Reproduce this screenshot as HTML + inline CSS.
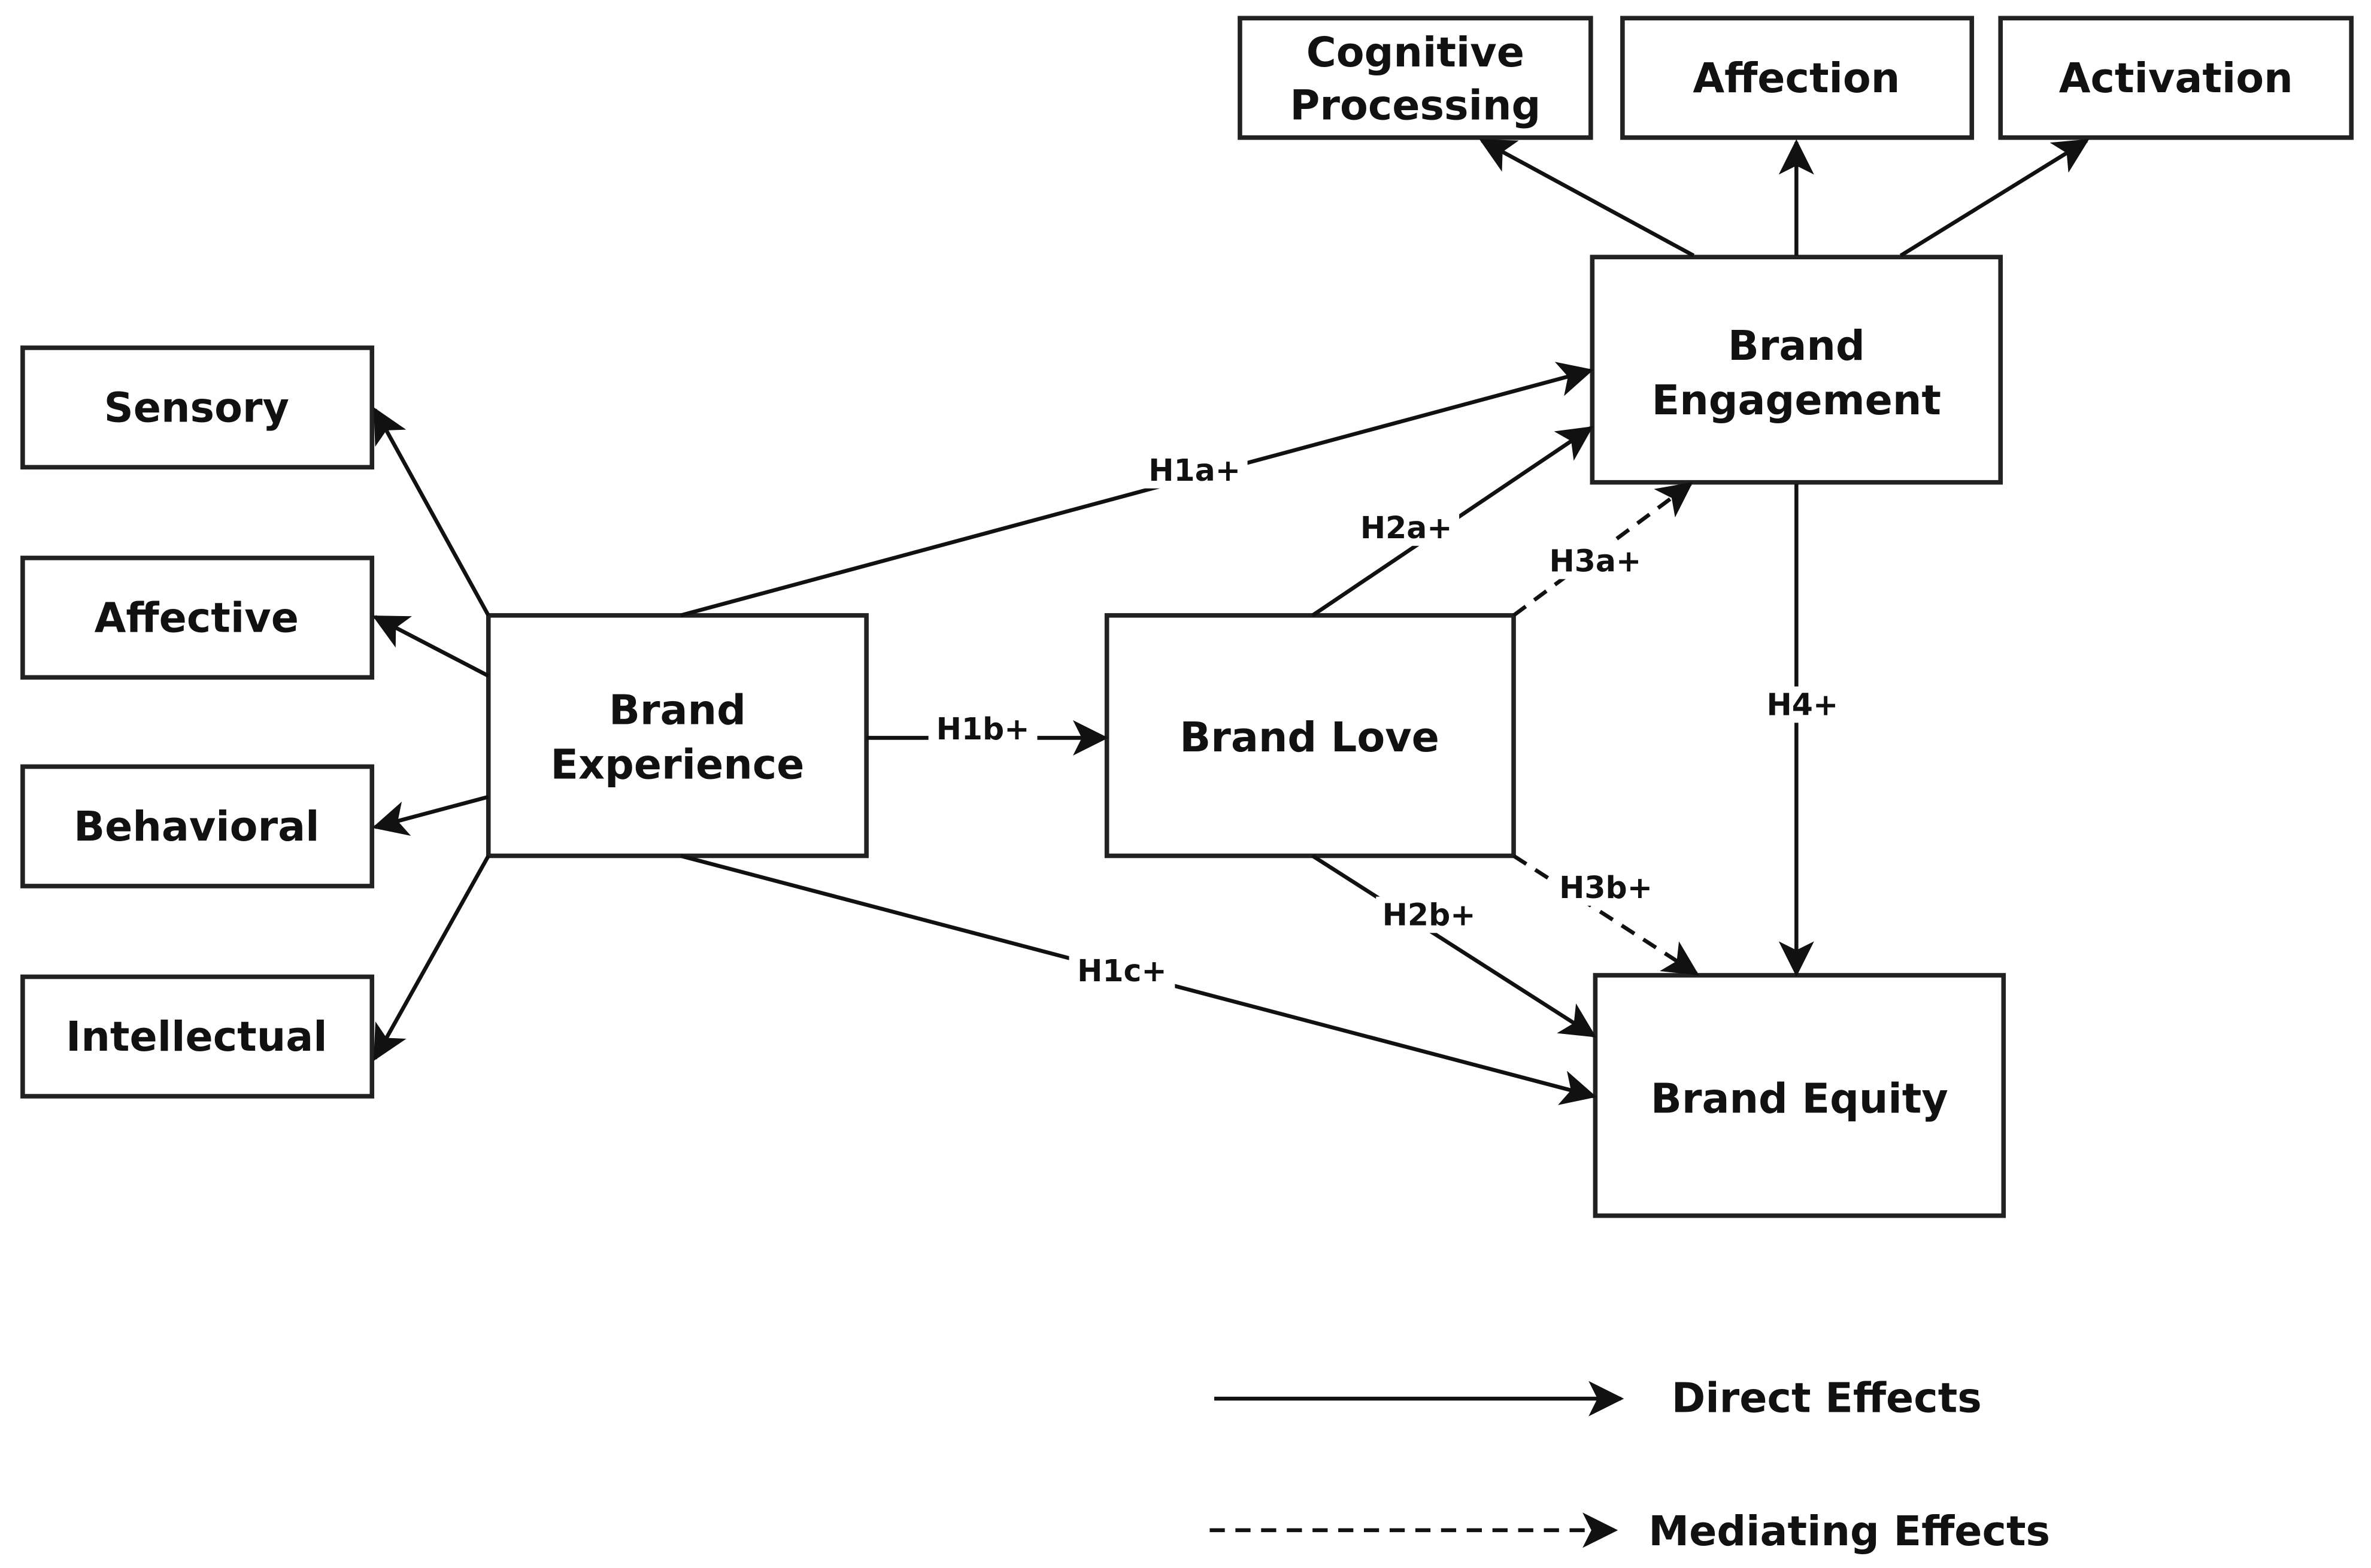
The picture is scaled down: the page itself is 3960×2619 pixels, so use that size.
<!DOCTYPE html>
<html><head><meta charset="utf-8"><style>
html,body{margin:0;padding:0;background:#fff;}
svg{display:block;}
text{font-family:"DejaVu Sans","Liberation Sans",sans-serif;font-weight:bold;fill:#111;}
.b{font-size:27px;text-anchor:middle;dominant-baseline:central;}
.l{font-size:20px;text-anchor:middle;dominant-baseline:central;}
</style></head><body>
<svg width="3960" height="2619" viewBox="0 0 1568 1037" preserveAspectRatio="none" xmlns="http://www.w3.org/2000/svg">
<defs>
<marker id="m" viewBox="0 0 12 12" refX="11" refY="6" markerWidth="9" markerHeight="9" orient="auto">
<path d="M0,0 L12,6 L0,12 L3,6 Z" fill="#111"/>
</marker>
</defs>
<rect width="1568" height="1037" fill="#fff"/>
<g fill="#fff" stroke="#222" stroke-width="3">
<rect x="820" y="12" width="232" height="79"/>
<rect x="1073" y="12" width="231" height="79"/>
<rect x="1323" y="12" width="232" height="79"/>
<rect x="1053" y="170" width="270" height="149"/>
<rect x="15" y="230" width="231" height="79"/>
<rect x="15" y="369" width="231" height="79"/>
<rect x="15" y="507" width="231" height="79"/>
<rect x="15" y="646" width="231" height="79"/>
<rect x="323" y="407" width="250" height="159"/>
<rect x="732" y="407" width="269" height="159"/>
<rect x="1055" y="645" width="270" height="159"/>
</g>
<g stroke="#111" stroke-width="2.6" fill="none" marker-end="url(#m)">
<line x1="1120" y1="169" x2="980" y2="93"/>
<line x1="1188" y1="169" x2="1188" y2="94"/>
<line x1="1257" y1="169" x2="1380" y2="93"/>
<line x1="323" y1="407" x2="248" y2="271"/>
<line x1="323" y1="447" x2="248" y2="408"/>
<line x1="323" y1="527" x2="248" y2="547"/>
<line x1="323" y1="566" x2="248" y2="700"/>
<line x1="450" y1="407" x2="1052" y2="245"/>
<line x1="573" y1="488" x2="731" y2="488"/>
<line x1="450" y1="566" x2="1054" y2="725"/>
<line x1="868" y1="407" x2="1052" y2="283"/>
<line x1="868" y1="566" x2="1054" y2="685"/>
<line x1="1188" y1="320" x2="1188" y2="644"/>
<line x1="803" y1="925" x2="1072" y2="925"/>
<g stroke-dasharray="10,7">
<line x1="1001" y1="407" x2="1118" y2="320"/>
<line x1="1001" y1="566" x2="1122" y2="644"/>
<line x1="800" y1="1012" x2="1068" y2="1012"/>
</g>
</g>
<text class="b" x="936" y="35">Cognitive</text>
<text class="b" x="936" y="70">Processing</text>
<text class="b" x="1188" y="52">Affection</text>
<text class="b" x="1439" y="52">Activation</text>
<text class="b" x="1188" y="229">Brand</text>
<text class="b" x="1188" y="265">Engagement</text>
<text class="b" x="130" y="270">Sensory</text>
<text class="b" x="130" y="409">Affective</text>
<text class="b" x="130" y="547">Behavioral</text>
<text class="b" x="130" y="686">Intellectual</text>
<text class="b" x="448" y="470">Brand</text>
<text class="b" x="448" y="506">Experience</text>
<text class="b" x="866" y="488">Brand Love</text>
<text class="b" x="1190" y="727">Brand Equity</text>
<text class="b" x="1208" y="925">Direct Effects</text>
<text class="b" x="1223" y="1013">Mediating Effects</text>
<g>
<rect x="755" y="299" width="70" height="24" fill="#fff"/><text class="l" x="790" y="311">H1a+</text>
<rect x="614" y="470" width="72" height="24" fill="#fff"/><text class="l" x="650" y="482">H1b+</text>
<rect x="707" y="630" width="70" height="24" fill="#fff"/><text class="l" x="742" y="642">H1c+</text>
<rect x="895" y="337" width="70" height="24" fill="#fff"/><text class="l" x="930" y="349">H2a+</text>
<rect x="1020" y="359" width="70" height="24" fill="#fff"/><text class="l" x="1055" y="371">H3a+</text>
<rect x="910" y="593" width="70" height="24" fill="#fff"/><text class="l" x="945" y="605">H2b+</text>
<rect x="1027" y="575" width="70" height="24" fill="#fff"/><text class="l" x="1062" y="587">H3b+</text>
<rect x="1164" y="454" width="56" height="24" fill="#fff"/><text class="l" x="1192" y="466">H4+</text>
</g>
</svg>
</body></html>
